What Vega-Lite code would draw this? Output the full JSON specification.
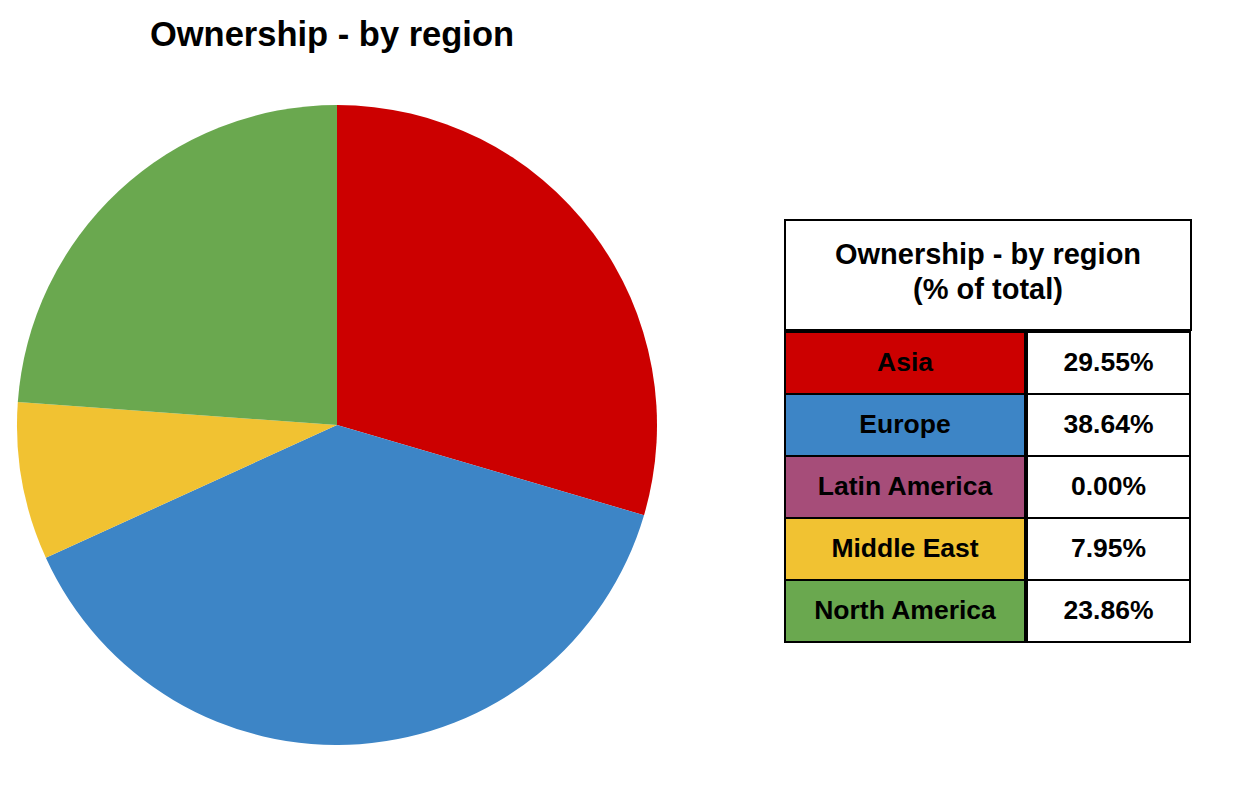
{
  "$schema": "https://vega.github.io/schema/vega-lite/v6.json",
  "padding": {"left": 0, "top": 17, "right": 0, "bottom": 0},
  "background": "white",
  "config": {
    "view": {"stroke": null},
    "font": "Liberation Sans",
    "title": {"color": "black", "fontWeight": "bold"}
  },
  "datasets": {
    "regions": [
      {"region": "Asia", "share": 0.2955},
      {"region": "Europe", "share": 0.3864},
      {"region": "Latin America", "share": 0.0},
      {"region": "Middle East", "share": 0.0795},
      {"region": "North America", "share": 0.2386}
    ],
    "header": [
      {"label": ["Ownership - by region", "(% of total)"]}
    ]
  },
  "spacing": 110,
  "hconcat": [
    {
      "width": 674,
      "height": 640,
      "title": {"text": "Ownership - by region", "fontSize": 34.5, "offset": 52, "anchor": "middle", "dx": -5},
      "data": {"name": "regions"},
      "mark": {"type": "arc", "radius": 320},
      "encoding": {
        "theta": {"field": "share", "type": "quantitative", "stack": true},
        "color": {
          "field": "region",
          "type": "nominal",
          "scale": {
            "domain": ["Asia", "Europe", "Latin America", "Middle East", "North America"],
            "range": ["#cc0000", "#3d85c6", "#a64d79", "#f1c232", "#6aa84f"]
          },
          "legend": null
        },
        "order": {"field": "region", "sort": "ascending"}
      }
    },
    {
      "spacing": 0,
      "vconcat": [
        {
          "width": 406,
          "height": 114,
          "data": {"values": []},
          "mark": "point",
          "encoding": {}
        },
        {
          "width": 406,
          "height": 110,
          "view": {"stroke": "black", "strokeWidth": 2},
          "data": {"name": "header"},
          "mark": {"type": "text", "fontSize": 29, "fontWeight": "bold", "color": "black", "baseline": "middle", "align": "center", "lineHeight": 35, "dy": -20},
          "encoding": {
            "text": {"field": "label", "type": "nominal"}
          }
        },
        {
          "spacing": 0,
          "hconcat": [
            {
              "width": 240,
              "height": 310,
              "data": {"name": "regions"},
              "encoding": {
                "y": {"field": "region", "type": "nominal", "axis": null, "scale": {"paddingInner": 0, "paddingOuter": 0}}
              },
              "layer": [
                {
                  "mark": {"type": "rect", "stroke": "black", "strokeWidth": 2},
                  "encoding": {
                    "fill": {
                      "field": "region",
                      "type": "nominal",
                      "scale": {
                        "domain": ["Asia", "Europe", "Latin America", "Middle East", "North America"],
                        "range": ["#cc0000", "#3d85c6", "#a64d79", "#f1c232", "#6aa84f"]
                      },
                      "legend": null
                    }
                  }
                },
                {
                  "mark": {"type": "text", "fontSize": 26.5, "fontWeight": "bold", "color": "black", "baseline": "middle", "align": "center"},
                  "encoding": {"text": {"field": "region", "type": "nominal"}}
                }
              ]
            },
            {
              "width": 163,
              "height": 310,
              "data": {"name": "regions"},
              "encoding": {
                "y": {"field": "region", "type": "nominal", "axis": null, "scale": {"paddingInner": 0, "paddingOuter": 0}}
              },
              "layer": [
                {
                  "mark": {"type": "rect", "stroke": "black", "strokeWidth": 2, "fill": "white"},
                  "encoding": {}
                },
                {
                  "mark": {"type": "text", "fontSize": 26.5, "fontWeight": "bold", "color": "black", "baseline": "middle", "align": "center"},
                  "encoding": {"text": {"field": "share", "type": "quantitative", "format": ".2%"}}
                }
              ]
            }
          ]
        }
      ]
    }
  ]
}
